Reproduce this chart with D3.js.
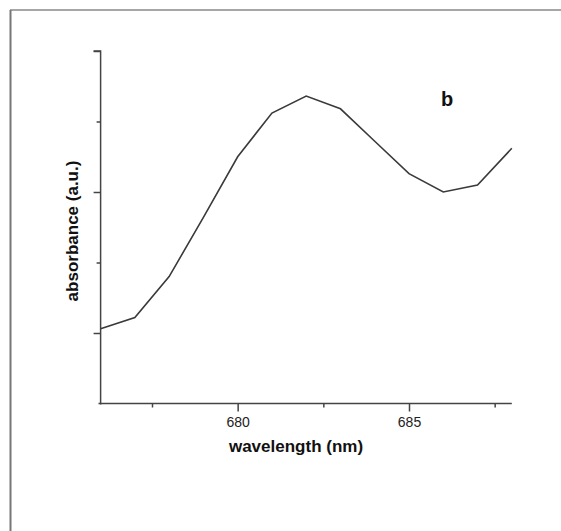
<!DOCTYPE html>
<html>
<head>
<meta charset="utf-8">
<script src="https://cdn.jsdelivr.net/npm/d3@7"></script>
<style>
  body { margin: 0; background: #fff; }
  text { font-family: "Liberation Sans", Arial, sans-serif; }
</style>
</head>
<body>
<div id="chart"></div>
<script>
// spectrum values (arbitrary units)
var wavelength = [676, 677, 678, 679, 680, 681, 682, 683, 684, 685, 686, 687, 688];
var absorbance = [0.03, 0.11, 0.40, 0.82, 1.25, 1.56, 1.68, 1.59, 1.36, 1.13, 1.00, 1.05, 1.31];

var xMajorTicks = [680, 685];
var xMinorTicks = [677.5, 682.5, 687.5];
var yMajorTicks = [0, 1, 2];
var yMinorTicks = [0.5, 1.5];
var panelLabel = "b";

function main(){
  var width = 561, height = 531;

  var svg = d3.select("#chart")
    .append("svg")
    .attr("width", width)
    .attr("height", height);

  // frame round the panel (only top and left edges are in view)
  svg.append("line")
    .attr("x1", 10).attr("x2", width)
    .attr("y1", 10).attr("y2", 10)
    .attr("stroke", "#888").attr("stroke-width", 1.5);
  svg.append("line")
    .attr("x1", 10.5).attr("x2", 10.5)
    .attr("y1", 10).attr("y2", height)
    .attr("stroke", "#777").attr("stroke-width", 2);

  var x = d3.scaleLinear()
    .domain([676, 688])
    .range([100.6, 511.8]);

  var y = d3.scaleLinear()
    .domain([-0.5, 2])
    .range([403.5, 51]);

  // x axis: minor ticks first, then major ticks with labels
  svg.append("g")
    .attr("transform", "translate(0,403.5)")
    .call(d3.axisBottom(x).tickValues(xMinorTicks).tickSize(4).tickSizeOuter(0).tickFormat(""))
    .call(function(g){ g.select(".domain").remove(); });

  var gx = svg.append("g")
    .attr("transform", "translate(0,403.5)")
    .call(d3.axisBottom(x).tickValues(xMajorTicks).tickSize(8).tickSizeOuter(0).tickPadding(6)
      .tickFormat(d3.format("d")));
  gx.select(".domain").attr("d", "M98.5,0H511.8");
  gx.selectAll("text").attr("font-size", "14px").attr("font-family", null).attr("fill", "#222");

  // y axis, no labels
  svg.append("g")
    .attr("transform", "translate(100.6,0)")
    .call(d3.axisLeft(y).tickValues(yMinorTicks).tickSize(4).tickSizeOuter(0).tickFormat(""))
    .call(function(g){ g.select(".domain").remove(); });

  svg.append("g")
    .attr("transform", "translate(100.6,0)")
    .call(d3.axisLeft(y).tickValues(yMajorTicks).tickSize(7).tickSizeOuter(0).tickFormat(""))
    .select(".domain").attr("d", "M-7,51H0V404.5");

  svg.selectAll(".tick line, .domain")
    .attr("stroke", "#444")
    .attr("stroke-width", 1.5);

  // axis titles
  svg.append("text")
    .attr("x", 296)
    .attr("y", 452)
    .attr("text-anchor", "middle")
    .attr("font-size", "17px")
    .attr("font-weight", "bold")
    .attr("fill", "#111")
    .text("wavelength (nm)");

  svg.append("text")
    .attr("transform", "translate(78,231) rotate(-90)")
    .attr("text-anchor", "middle")
    .attr("font-size", "17px")
    .attr("font-weight", "bold")
    .attr("fill", "#111")
    .text("absorbance (a.u.)");

  svg.append("text")
    .attr("x", 441)
    .attr("y", 106)
    .attr("font-size", "20px")
    .attr("font-weight", "bold")
    .attr("fill", "#111")
    .text(panelLabel);

  // the spectrum
  var line = d3.line()
    .x(function(d, i){ return x(wavelength[i]); })
    .y(function(d){ return y(d); });

  svg.append("path")
    .datum(absorbance)
    .attr("d", line)
    .attr("fill", "none")
    .attr("stroke", "#3a3a3a")
    .attr("stroke-width", 1.6);
}
main();
</script>
</body>
</html>
